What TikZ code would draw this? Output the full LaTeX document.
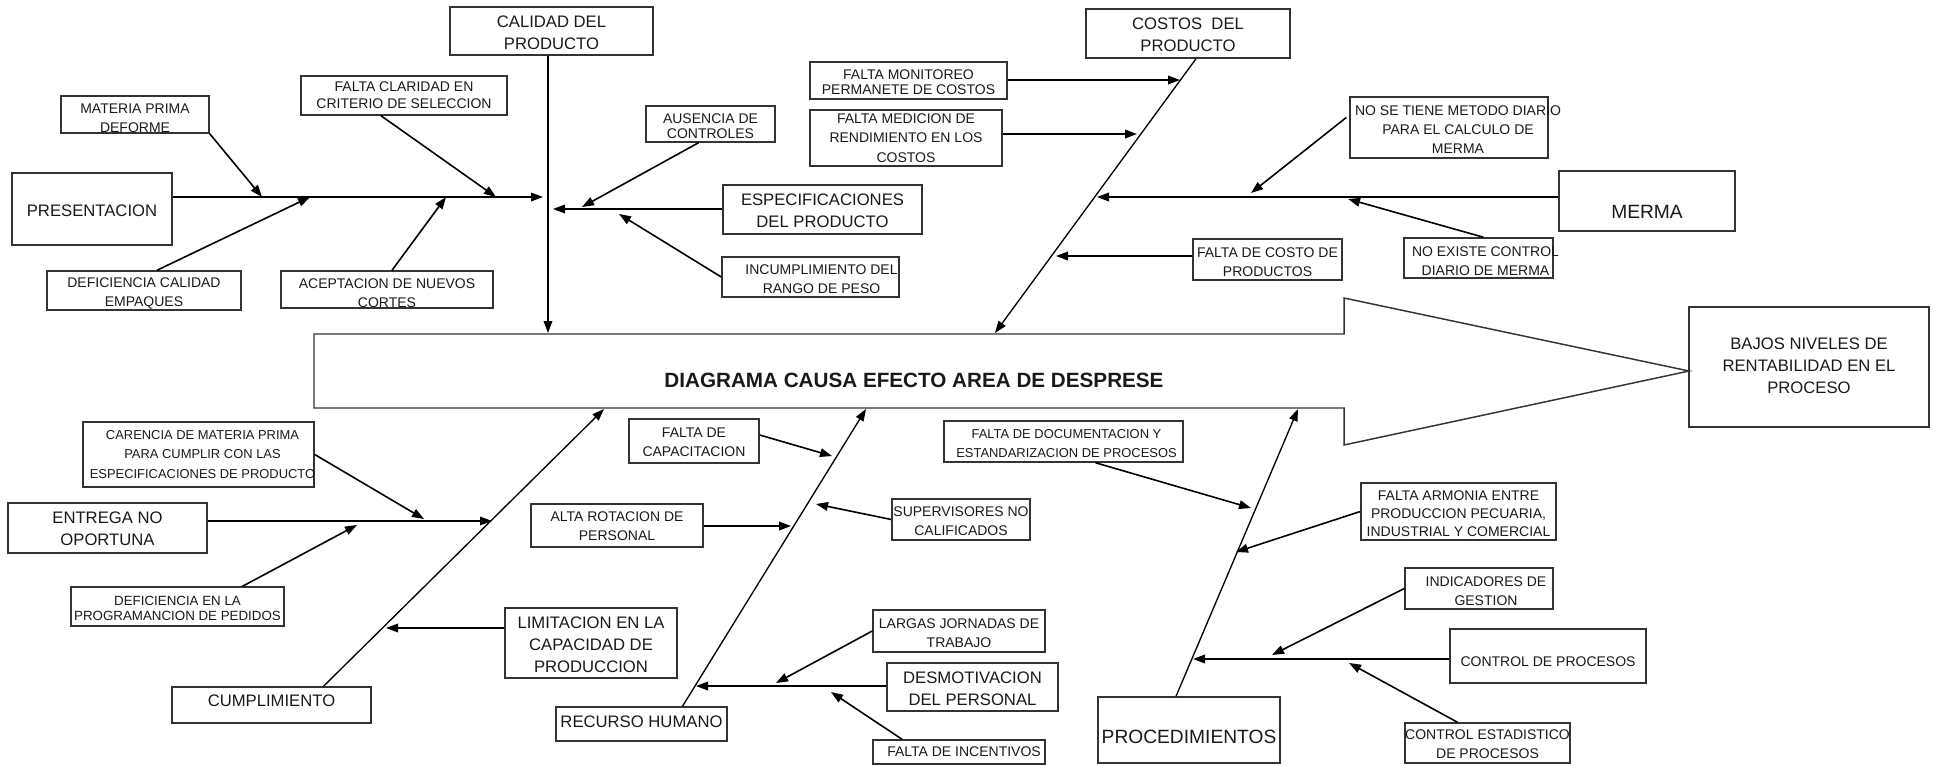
\documentclass[tikz,border=0pt]{standalone}
\usepackage{fontspec}
\setmainfont{Liberation Sans}
\usetikzlibrary{arrows.meta,calc,fit}
\tikzset{
  frame/.style ={draw=black!80, line width=1.1pt, inner sep=0pt},
  ctxt/.style  ={font=\fontsize{10.5}{14.5}\selectfont, align=center, inner sep=0pt, text=black!90},
  ctight/.style={ctxt, font=\fontsize{10.5}{11.2}\selectfont},
  btxt/.style  ={ctxt, font=\fontsize{12.5}{16.3}\selectfont},
  htxt/.style  ={ctxt, font=\fontsize{14.4}{17}\selectfont},
  bone/.style  ={-{Triangle[length=9pt,width=6.5pt]}, line width=1pt},
  cause/.style ={-{Triangle[length=9pt,width=6.5pt]}, line width=1.2pt},
}
% box from two corners, text shifted by [dx,dy]
\newcommand{\cbox}[6][0,2]{%
  \path (#4) coordinate (#3-a) (#5) coordinate (#3-b);
  \node[frame, fit=(#3-a)(#3-b)] (#3) {};
  \node[#2] (#3-t) at ($(#3)+(#1)$) {#6};}

\begin{document}
\begin{tikzpicture}[x=0.75pt, y=-0.75pt]
  \useasboundingbox (0,0) rectangle (1941,765);
  % effect
  \cbox[0,-1.5]{btxt, font=\fontsize{12.5}{16.6}\selectfont}{bn}{1689,307}{1929,427}{BAJOS NIVELES DE\\RENTABILIDAD EN EL\\PROCESO}
  \draw[frame] (314,334) -- (1344,334) -- (1344,298) -- (1689,371) -- (1344,445)
     -- (1344,408) -- (314,408) -- cycle;
  \node[font=\fontsize{15.5}{18}\selectfont\bfseries, text=black!90] (title) at (914,380)
     {DIAGRAMA CAUSA EFECTO AREA DE DESPRESE};
  \path (548,333) coordinate (tcal) (995,333) coordinate (tco)
        (604,409) coordinate (tcu) (866,409) coordinate (trh) (1298,409) coordinate (tpro);

  % calidad del producto
  \cbox[0,1.5]{btxt}{cal}{450,7}{653,55}{CALIDAD DEL\\PRODUCTO}
  \cbox[0,2]{btxt}{pr}{12,173}{172,245}{PRESENTACION}
  \cbox[0,4]{ctxt}{mp}{61,96}{209,133}{MATERIA PRIMA\\DEFORME}
  \cbox[0,0]{ctxt, font=\fontsize{10.5}{13}\selectfont}{fc}{301,76}{507,115}{FALTA CLARIDAD EN\\CRITERIO DE SELECCION}
  \cbox[0,3]{ctxt}{dc}{47,271}{241,310}{DEFICIENCIA CALIDAD\\EMPAQUES}
  \cbox[0,4]{ctxt}{ac}{281,271}{493,308}{ACEPTACION DE NUEVOS\\CORTES}
  \cbox[0,1]{btxt}{es}{723,185}{922,234}{ESPECIFICACIONES\\DEL PRODUCTO}
  \cbox[0,2]{ctight}{au}{646,106}{775,142}{AUSENCIA DE\\CONTROLES}
  \cbox[11,2]{ctxt}{inc}{722,257}{899,297}{INCUMPLIMIENTO DEL\\RANGO DE PESO}
  \path (543,197) coordinate (tpr) (553,209) coordinate (tes);
  \draw[bone] (cal.south -| tcal) -- (tcal);
  \draw[bone] (pr.east |- tpr) -- (tpr);
  \draw[bone] (es.west |- tes) -- (tes);
  \path (262,197) coordinate (mp-to) (310,197) coordinate (dc-to)
        (496,197) coordinate (fc-to) (446,197) coordinate (ac-to)
        (582,207) coordinate (au-to) (619,214) coordinate (inc-to);
  \draw[cause] (mp.south east) -- (mp-to);
  \draw[cause] ($(dc.north)+(13,0)$) -- (dc-to);
  \draw[cause] ($(fc.south)+(-23,0)$) -- (fc-to);
  \draw[cause] ($(ac.north)+(5,0)$) -- (ac-to);
  \draw[cause] ($(au.south)+(-12,0)$) -- (au-to);
  \draw[cause] (inc.west) -- (inc-to);

  % costos del producto
  \cbox[0,1]{btxt}{co}{1086,9}{1290,58}{COSTOS\ \ DEL\\PRODUCTO}
  \cbox[0,2]{ctight}{fm}{810,62}{1007,99}{FALTA MONITOREO\\PERMANETE DE COSTOS}
  \cbox[0,0]{ctxt}{fme}{810,110}{1002,166}{FALTA MEDICION DE\\RENDIMIENTO EN LOS\\COSTOS}
  \cbox[0,3]{ctxt}{fco}{1193,239}{1342,280}{FALTA DE COSTO DE\\PRODUCTOS}
  \draw[bone] ($(co.south)+(8,0)$) -- (tco);
  \path (1180,80) coordinate (fm-to) (1137,134) coordinate (fme-to) (1056,256) coordinate (fco-to);
  \draw[cause] (fm.east |- fm-to) -- (fm-to);
  \draw[cause] (fme.east |- fme-to) -- (fme-to);
  \draw[cause] (fco.west |- fco-to) -- (fco-to);

  % merma
  \cbox[0,10.5]{htxt}{me}{1559,171}{1735,231}{MERMA}
  \cbox[9,2]{ctxt}{ns}{1350,97}{1548,158}{NO SE TIENE METODO DIARIO\\PARA EL CALCULO DE\\MERMA}
  \cbox[7,3]{ctxt}{ne}{1404,238}{1553,278}{NO EXISTE CONTROL\\DIARIO DE MERMA}
  \coordinate (tme) at (1097,197);
  \draw[bone] (me.west |- tme) -- (tme);
  \path (1251,193) coordinate (ns-to) (1348,199) coordinate (ne-to);
  \draw[cause] ($(ns.west)+(-3,-10)$) -- (ns-to);
  \draw[cause] ($(ne.north)+(5,0)$) -- (ne-to);

  % cumplimiento
  \cbox[0,-4]{btxt}{cu}{172,687}{371,723}{CUMPLIMIENTO}
  \cbox[0,1]{btxt}{en}{8,503}{207,553}{ENTREGA NO\\OPORTUNA}
  \cbox[4,0]{ctxt, font=\fontsize{9.7}{14.6}\selectfont}{ca}{83,422}{314,487}{CARENCIA DE MATERIA PRIMA\\PARA CUMPLIR CON LAS\\ESPECIFICACIONES DE PRODUCTO}
  \cbox[0,2]{ctxt, font=\fontsize{10}{11.2}\selectfont}{dp}{71,587}{284,626}{DEFICIENCIA EN LA\\PROGRAMANCION DE PEDIDOS}
  \cbox[0,2]{btxt, font=\fontsize{12.5}{16.5}\selectfont}{li}{505,608}{677,678}{LIMITACION EN LA\\CAPACIDAD DE\\PRODUCCION}
  \path (492,521) coordinate (ten) (386,628) coordinate (tli);
  \draw[bone] ($(cu.north)+(52,0)$) -- (tcu);
  \draw[bone] (en.east |- ten) -- (ten);
  \draw[bone] (li.west |- tli) -- (tli);
  \path (424,519) coordinate (ca-to) (357,525) coordinate (dp-to);
  \draw[cause] (ca.east) -- (ca-to);
  \draw[cause] ($(dp.north)+(65,0)$) -- (dp-to);

  % recurso humano
  \cbox[0,-2]{btxt}{rh}{556,707}{727,741}{RECURSO HUMANO}
  \cbox[0,1.5]{ctxt}{fcap}{629,419}{759,463}{FALTA DE\\CAPACITACION}
  \cbox[0,1]{ctxt}{ar}{531,504}{703,547}{ALTA ROTACION DE\\PERSONAL}
  \cbox[0,2]{ctxt}{su}{892,499}{1030,540}{SUPERVISORES NO\\CALIFICADOS}
  \cbox[0,2]{ctxt}{lj}{873,610}{1045,652}{LARGAS JORNADAS DE\\TRABAJO}
  \cbox[0,1.5]{btxt}{de}{887,663}{1058,711}{DESMOTIVACION\\DEL PERSONAL}
  \cbox[5,0]{ctxt}{fi}{873,740}{1045,764}{FALTA DE INCENTIVOS}
  \coordinate (tde) at (696,686);
  \draw[bone] ($(rh.north)+(41,0)$) -- (trh);
  \draw[bone] (de.west |- tde) -- (tde);
  \path (832,456) coordinate (fcap-to) (791,526) coordinate (ar-to) (816,504) coordinate (su-to)
        (776,683) coordinate (lj-to) (831,692) coordinate (fi-to);
  \draw[cause] ($(fcap.east)+(0,-6)$) -- (fcap-to);
  \draw[cause] (ar.east |- ar-to) -- (ar-to);
  \draw[cause] (su.west) -- (su-to);
  \draw[cause] (lj.west) -- (lj-to);
  \draw[cause] ($(fi.north)+(-57,0)$) -- (fi-to);

  % procedimientos
  \cbox[0,7]{htxt}{pro}{1098,697}{1280,763}{PROCEDIMIENTOS}
  \cbox[3,2]{ctxt, font=\fontsize{9.7}{14.5}\selectfont}{fd}{944,421}{1183,462}{FALTA DE DOCUMENTACION Y\\ESTANDARIZACION DE PROCESOS}
  \cbox[0,2]{ctxt, font=\fontsize{10.5}{13.5}\selectfont}{fa}{1361,483}{1556,540}{FALTA ARMONIA ENTRE\\PRODUCCION PECUARIA,\\INDUSTRIAL Y COMERCIAL}
  \cbox[7,3]{ctxt}{ig}{1405,568}{1553,609}{INDICADORES DE\\GESTION}
  \cbox[0,6]{ctxt}{cp}{1450,629}{1646,683}{CONTROL DE PROCESOS}
  \cbox[0,1]{ctxt}{ce}{1405,723}{1570,763}{CONTROL ESTADISTICO\\DE PROCESOS}
  \coordinate (tcp) at (1193,659);
  \draw[bone] ($(pro.north)+(-13,0)$) -- (tpro);
  \draw[bone] (cp.west |- tcp) -- (tcp);
  \path (1251,508) coordinate (fd-to) (1236,552) coordinate (fa-to) (1272,655) coordinate (ig-to)
        (1349,663) coordinate (ce-to);
  \draw[cause] ($(fd.south)+(32,0)$) -- (fd-to);
  \draw[cause] (fa.west) -- (fa-to);
  \draw[cause] (ig.west) -- (ig-to);
  \draw[cause] ($(ce.north)+(-30,0)$) -- (ce-to);
\end{tikzpicture}
\end{document}
